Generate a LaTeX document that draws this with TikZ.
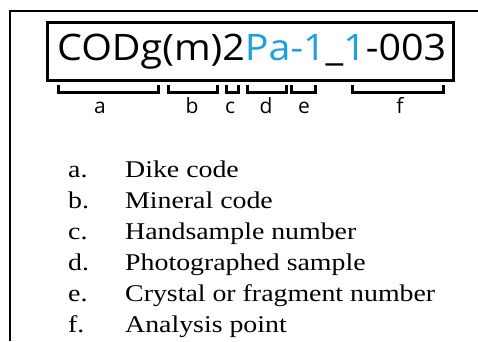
\documentclass[tikz,border=0pt]{standalone}
\usepackage{fontspec}
\setmainfont[FakeStretch=1.16]{Liberation Serif}
\newfontfamily\codefont[FakeStretch=1.08]{Open Sans}
\newfontfamily\labfont{Open Sans}
\definecolor{codeblue}{RGB}{27,160,226}
\tikzset{
  frameline/.style={line width=2.5pt, line cap=butt},
  codebox/.style={draw, line width=3pt, minimum width=405.5pt, minimum height=58pt, inner sep=0pt},
  brk/.style={line width=3pt, line join=miter},
  brklabel/.style={anchor=base, inner sep=0pt, font=\labfont\fontsize{21}{21}\selectfont},
  itemmark/.style={anchor=base west, inner sep=0pt, font=\fontsize{24}{24}\selectfont},
  itemtext/.style={anchor=base west, inner sep=0pt, font=\fontsize{24}{24}\selectfont}
}
\begin{document}
\begin{tikzpicture}[x=1pt,y=-1pt]
\useasboundingbox (0,0) rectangle (478,341);
\draw[frameline] (10,341) -- (10,11) -- (478,11);
\node[codebox] (box) at (250.25,51) {};
\node[anchor=base west, inner sep=0pt, font=\codefont\fontsize{36.5}{36.5}\selectfont] (code) at (57,60)
  {CODg(m)2\textcolor{codeblue}{Pa-1}\_\textcolor{codeblue}{1}-003};
% brackets
\draw[brk] (58,85) -- (58,92) -- (158,92) -- (158,85);
\draw[brk] (168,85) -- (168,92) -- (217,92) -- (217,85);
\draw[brk] (226,85) -- (226,92) -- (238,92) -- (238,85);
\draw[brk] (247,85) -- (247,92) -- (286,92) -- (286,85);
\draw[brk] (291,85) -- (291,92) -- (315,92) -- (315,85);
\draw[brk] (352,85) -- (352,92) -- (443,92) -- (443,85);
\node[brklabel] (la) at (100,113) {a};
\node[brklabel] (lb) at (192,113) {b};
\node[brklabel] (lc) at (230,113) {c};
\node[brklabel] (ld) at (266,113) {d};
\node[brklabel] (le) at (304,113) {e};
\node[brklabel] (lf) at (400,113) {f};
% list
\node[itemmark] (ma) at (68,177) {a.};
\node[itemtext] (ta) at (125,177) {Dike code};
\node[itemmark] (mb) at (68,208) {b.};
\node[itemtext] (tb) at (125,208) {Mineral code};
\node[itemmark] (mc) at (68,239) {c.};
\node[itemtext] (tc) at (125,239) {Handsample number};
\node[itemmark] (md) at (68,270) {d.};
\node[itemtext] (td) at (125,270) {Photographed sample};
\node[itemmark] (me) at (68,301) {e.};
\node[itemtext] (te) at (125,301) {Crystal or fragment number};
\node[itemmark] (mf) at (68,332) {f.};
\node[itemtext] (tf) at (125,332) {Analysis point};
\end{tikzpicture}
\end{document}
